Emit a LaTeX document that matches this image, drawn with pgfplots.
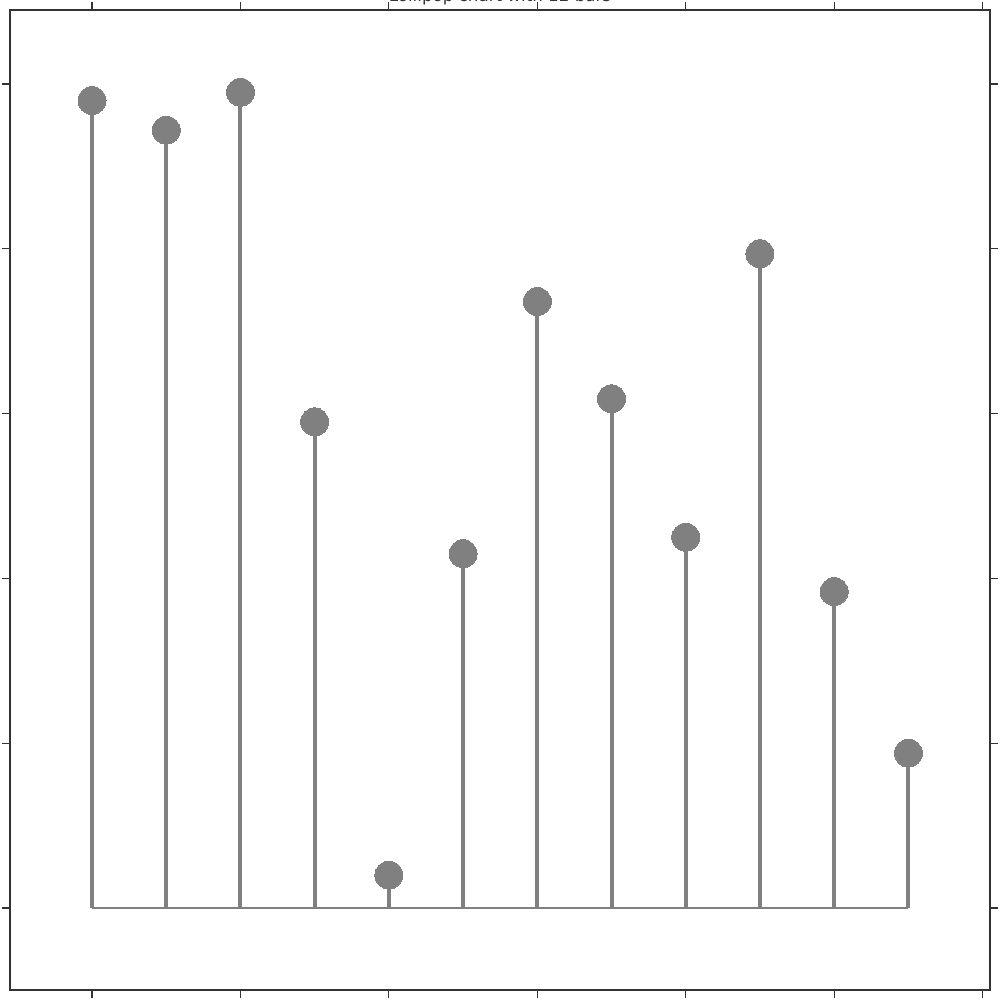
\documentclass[border=0pt]{standalone}
\usepackage{pgfplots}
\pgfplotsset{compat=1.18}
\usepackage{fontspec}
\setmainfont{DejaVu Sans}
\definecolor{stemc}{HTML}{808080}
\definecolor{framec}{HTML}{333333}
\begin{document}
\begin{tikzpicture}
\begin{axis}[
 scale only axis, width=980bp, height=980bp,
 xmin=-1.105, xmax=12.10, ymin=-0.4976, ymax=5.449,
 xtick={0,2,...,12}, ytick={0,...,5},
 xticklabels={}, yticklabels={},
 tick align=outside, major tick length=8bp,
 tick style={framec, line width=1.2bp},
 axis line style={framec, line width=2bp},
 clip=false,
]
\addplot[stemc, line width=2.8bp, mark=none] coordinates {(0,0)(11,0)};
\addplot[ycomb, stemc, line width=4bp, mark=none] coordinates {
(0,4.90)(1,4.72)(2,4.95)(3,2.95)(4,0.20)(5,2.15)(6,3.68)(7,3.09)(8,2.25)(9,3.97)(10,1.92)(11,0.94)};
\addplot[only marks, mark=*, mark size=14bp, mark options={fill=stemc, draw=stemc, line width=0bp}] coordinates {
(0,4.90)(1,4.72)(2,4.95)(3,2.95)(4,0.20)(5,2.15)(6,3.68)(7,3.09)(8,2.25)(9,3.97)(10,1.92)(11,0.94)};
\node[anchor=base, font=\fontsize{16.7bp}{20bp}\selectfont, text=framec] at (rel axis cs:0.5,1) [yshift=8.3bp] {Lollipop chart with 12 bars};
\coordinate (SW) at (rel axis cs:0,0);
\coordinate (NE) at (rel axis cs:1,1);
\end{axis}
\pgfresetboundingbox
\path ([shift={(-10bp,-10bp)}]SW) rectangle ([shift={(10bp,10bp)}]NE);
\end{tikzpicture}
\end{document}
